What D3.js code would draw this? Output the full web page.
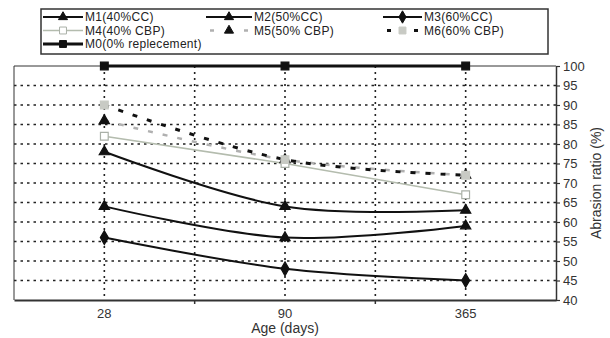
<!DOCTYPE html>
<html>
<head>
<meta charset="utf-8">
<script src="https://cdn.jsdelivr.net/npm/d3@7"></script>
<style>
  body { margin: 0; background: #fff; }
  svg { font-family: "Liberation Sans", Arial, sans-serif; }
</style>
</head>
<body>
<div id="chart"></div>
<script>
// data
const ages = ['28', '90', '365'];
const yTicks = [40, 45, 50, 55, 60, 65, 70, 75, 80, 85, 90, 95, 100];
const m0 = [100, 100, 100];
const m1 = [78, 64, 63];
const m2 = [64, 56, 59];
const m3 = [56, 48, 45];
const m4 = [82, 75, 67];
const m5 = [86, 76, 72];
const m6 = [90, 76, 72];

const series = [
  { name: 'M4(40% CBP)', values: m4, color: '#b4bcae', width: 1.5, dash: null, marker: 'square', mFill: '#fff', mStroke: '#aab0a8', curve: d3.curveLinear },
  { name: 'M5(50% CBP)', values: m5, color: '#b0b0b0', width: 2.5, dash: '5,10', marker: 'triangle', mFill: '#111', mStroke: '#111', curve: d3.curveCatmullRom },
  { name: 'M6(60% CBP)', values: m6, color: '#111', width: 3, dash: '5,10', marker: 'square', mFill: '#c8cac4', mStroke: '#c8cac4', curve: d3.curveCatmullRom },
  { name: 'M1(40%CC)', values: m1, color: '#111', width: 2, dash: null, marker: 'triangle', mFill: '#111', mStroke: '#111', curve: d3.curveCatmullRom },
  { name: 'M2(50%CC)', values: m2, color: '#111', width: 2, dash: null, marker: 'triangle', mFill: '#111', mStroke: '#111', curve: d3.curveCatmullRom },
  { name: 'M3(60%CC)', values: m3, color: '#111', width: 2, dash: null, marker: 'diamond', mFill: '#111', mStroke: '#111', curve: d3.curveCatmullRom },
  { name: 'M0(0% replecement)', values: m0, color: '#111', width: 3, dash: null, marker: 'square', mFill: '#111', mStroke: '#111', curve: d3.curveLinear }
];
const byName = {};
series.forEach(s => byName[s.name] = s);

const width = 610, height = 338;
const plot = { left: 14, right: 556, top: 66, bottom: 300 };

const svg = d3.select('#chart').append('svg')
  .attr('width', width)
  .attr('height', height);

const x = d3.scaleBand().domain(ages).range([plot.left, plot.right]);
const y = d3.scaleLinear().domain([40, 100]).range([plot.bottom, plot.top]);
const cx = d => x(d) + x.bandwidth() / 2;

const symbolFor = m => m === 'triangle' ? d3.symbolTriangle : (m === 'diamond' ? d3.symbolDiamond : d3.symbolSquare);
const sizeFor = m => m === 'triangle' ? 45 : (m === 'diamond' ? 55 : 60);

// grid
const grid = svg.append('g');
grid.selectAll('line.h')
  .data(yTicks.filter(v => v > 40 && v < 100))
  .join('line')
  .attr('x1', plot.left).attr('x2', plot.right)
  .attr('y1', d => y(d)).attr('y2', d => y(d))
  .attr('stroke', '#222').attr('stroke-width', 1.6)
  .attr('stroke-dasharray', '2.5,4');

const vLines = [];
ages.forEach((a, i) => {
  vLines.push(cx(a));
  if (i < ages.length - 1) vLines.push(x(a) + x.bandwidth());
});
grid.selectAll('line.v')
  .data(vLines)
  .join('line')
  .attr('x1', d => d).attr('x2', d => d)
  .attr('y1', plot.top).attr('y2', plot.bottom)
  .attr('stroke', '#222').attr('stroke-width', 1.6)
  .attr('stroke-dasharray', '2,4');

// frame
svg.append('line').attr('x1', plot.left).attr('x2', plot.right)
  .attr('y1', plot.top).attr('y2', plot.top).attr('stroke', '#333').attr('stroke-width', 1);
svg.append('line').attr('x1', plot.left).attr('x2', plot.left)
  .attr('y1', plot.top).attr('y2', plot.bottom).attr('stroke', '#333').attr('stroke-width', 1);

// x axis
const xAxis = svg.append('g')
  .attr('transform', `translate(0,${plot.bottom})`)
  .call(d3.axisBottom(x).tickSize(0).tickPadding(9));
xAxis.select('.domain').attr('stroke', '#333').attr('stroke-width', 2);
xAxis.selectAll('text').attr('font-size', 13).attr('fill', '#333')
  .attr('font-family', '"Liberation Sans", Arial, sans-serif');
svg.append('g').selectAll('line')
  .data(vLines.filter((d, i) => i % 2 === 1))
  .join('line')
  .attr('x1', d => d).attr('x2', d => d)
  .attr('y1', plot.bottom).attr('y2', plot.bottom + 4)
  .attr('stroke', '#333').attr('stroke-width', 1.5);

// y axis on the right
const yAxis = svg.append('g')
  .attr('transform', `translate(${plot.right},0)`)
  .call(d3.axisRight(y).tickValues(yTicks).tickSize(4).tickPadding(3).tickSizeOuter(0));
yAxis.select('.domain').attr('stroke', '#333').attr('stroke-width', 1.5);
yAxis.selectAll('.tick line').attr('stroke', '#333').attr('stroke-width', 1.2);
yAxis.selectAll('text').attr('font-size', 13).attr('fill', '#333')
  .attr('font-family', '"Liberation Sans", Arial, sans-serif');

// axis titles
svg.append('text')
  .attr('x', cx('90')).attr('y', 333)
  .attr('text-anchor', 'middle')
  .attr('font-size', 14).attr('fill', '#333')
  .text('Age (days)');
svg.append('text')
  .attr('transform', `translate(601,${(plot.top + plot.bottom) / 2}) rotate(-90)`)
  .attr('text-anchor', 'middle')
  .attr('font-size', 14).attr('fill', '#333')
  .text('Abrasion ratio (%)');

// lines
const lineGen = s => d3.line()
  .x((d, i) => cx(ages[i]))
  .y(d => y(d))
  .curve(s.curve);

const lines = svg.append('g');
series.forEach(s => {
  lines.append('path')
    .datum(s.values)
    .attr('fill', 'none')
    .attr('stroke', s.color)
    .attr('stroke-width', s.width)
    .attr('stroke-dasharray', s.dash)
    .attr('d', lineGen(s));
});
series.forEach(s => {
  lines.selectAll(null)
    .data(s.values)
    .join('path')
    .attr('transform', (d, i) => `translate(${cx(ages[i])},${y(d)})`)
    .attr('d', d3.symbol(symbolFor(s.marker), sizeFor(s.marker)))
    .attr('fill', s.mFill)
    .attr('stroke', s.mStroke)
    .attr('stroke-width', 1.2);
});

// legend
const legend = svg.append('g');
legend.append('rect')
  .attr('x', 41).attr('y', 9).attr('width', 507).attr('height', 45)
  .attr('fill', '#fff').attr('stroke', '#333').attr('stroke-width', 1.5);

const legendRows = [
  ['M1(40%CC)', 'M2(50%CC)', 'M3(60%CC)'],
  ['M4(40% CBP)', 'M5(50% CBP)', 'M6(60% CBP)'],
  ['M0(0% replecement)']
];
const colX = [[43, 85], [206, 254], [383, 424]];
const rowY = [17, 30.5, 44];

legendRows.forEach((row, r) => {
  row.forEach((name, c) => {
    const s = byName[name];
    const [x0, x1] = [colX[c][0], colX[c][1] - 2];
    const g = legend.append('g');
    if (s.dash) {
      g.append('line')
        .attr('x1', x0 + 4).attr('x2', x0 + 8).attr('y1', rowY[r]).attr('y2', rowY[r])
        .attr('stroke', s.color).attr('stroke-width', s.width);
      g.append('line')
        .attr('x1', x1 - 8).attr('x2', x1 - 4).attr('y1', rowY[r]).attr('y2', rowY[r])
        .attr('stroke', s.color).attr('stroke-width', s.width);
    } else {
      g.append('line')
        .attr('x1', x0).attr('x2', x1).attr('y1', rowY[r]).attr('y2', rowY[r])
        .attr('stroke', s.color).attr('stroke-width', s.width);
    }
    g.append('path')
      .attr('transform', `translate(${(x0 + x1) / 2},${rowY[r]})`)
      .attr('d', d3.symbol(symbolFor(s.marker), sizeFor(s.marker) * 0.8))
      .attr('fill', s.mFill).attr('stroke', s.mStroke).attr('stroke-width', 1);
    g.append('text')
      .attr('x', colX[c][1]).attr('y', rowY[r] + 4)
      .attr('font-size', 12).attr('fill', '#222')
      .attr('letter-spacing', 0.3)
      .text(name);
  });
});
</script>
</body>
</html>
